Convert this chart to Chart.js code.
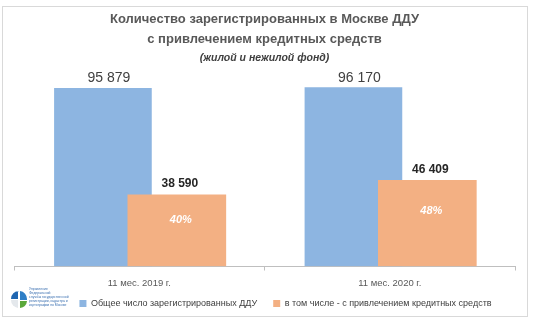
<!DOCTYPE html>
<html>
<head>
    <meta charset="utf-8">
    <title>ДДУ с привлечением кредитных средств</title>
    <script src="https://cdn.jsdelivr.net/npm/chart.js@4.4.1/dist/chart.umd.min.js"></script>
    <style>
        body {
            margin: 0;
            background-color: #ffffff;
            font-family: "Liberation Sans", Arial, sans-serif;
        }
        .frame {
            position: absolute;
            left: 2px;
            top: 6px;
            width: 526px;
            height: 311px;
            border: 1px solid #d9d9d9;
            box-sizing: border-box;
        }
        .chart-box {
            position: absolute;
            left: 0;
            top: 0;
            right: 0;
            bottom: 0;
        }
        .logo {
            position: absolute;
            left: 7px;
            top: 279px;
            width: 60px;
            height: 28px;
        }
        .logo-text {
            position: absolute;
            left: 19px;
            top: 1px;
            font-size: 3.4px;
            line-height: 4px;
            color: #3a6fb0;
            width: 40px;
        }
    </style>
</head>
<body>
    <div class="frame">
        <div class="chart-box">
            <canvas id="dduChart"></canvas>
        </div>
        <div class="logo">
            <svg width="18" height="26" viewBox="0 0 18 26">
                <path d="M9 5 A8 8 0 0 0 1 13 L8 13 L8 5 Z" fill="#1f66b1"/>
                <path d="M10 5 A8 8 0 0 1 17 13 L17 14 L10 14 Z" fill="#2f7fc7"/>
                <path d="M10 15 L17 15 A8 8 0 0 1 10 22 Z" fill="#5aa83a"/>
                <path d="M1 14 L8 14 L8 22 A8 8 0 0 1 1 14 Z" fill="#e4e8ec"/>
            </svg>
            <div class="logo-text">Управление Федеральной<br>службы государственной<br>регистрации, кадастра и<br>картографии по Москве</div>
        </div>
    </div>
    <script>
        const categories = ['11 мес. 2019 г.', '11 мес. 2020 г.'];
        const totalDdu = [95879, 96170];
        const creditDdu = [38590, 46409];
        const creditShare = [40, 48];
        const seriesNames = ['Общее число зарегистрированных ДДУ', 'в том числе - с привлечением кредитных средств'];

        const blueColor = '#8db5e1';
        const orangeColor = '#f3b083';
        const fontFamily = '"Liberation Sans", Arial, sans-serif';

        function fmt(v) {
            return String(v).replace(/\B(?=(\d{3})+(?!\d))/g, ' ');
        }

        // value labels above bars and share inside the orange bars
        const barLabels = {
            id: 'barLabels',
            afterDatasetsDraw(chart) {
                const ctx = chart.ctx;
                ctx.save();
                ctx.textAlign = 'center';
                ctx.textBaseline = 'middle';
                chart.getDatasetMeta(0).data.forEach((bar, i) => {
                    ctx.font = '14px ' + fontFamily;
                    ctx.fillStyle = '#404040';
                    ctx.fillText(fmt(totalDdu[i]), bar.x + 6, bar.y - 10);
                });
                chart.getDatasetMeta(1).data.forEach((bar, i) => {
                    ctx.font = 'bold 12px ' + fontFamily;
                    ctx.fillStyle = '#262626';
                    ctx.fillText(fmt(creditDdu[i]), bar.x + 3, bar.y - 11);
                    ctx.font = 'italic bold 11px ' + fontFamily;
                    ctx.fillStyle = '#ffffff';
                    ctx.fillText(creditShare[i] + '%', bar.x + 4, bar.y + (bar.base - bar.y) * 0.36);
                });
                ctx.restore();
            }
        };

        // legend sits to the right of the logo; its box is kept short so the axis stays low
        const legendShift = {
            id: 'legendShift',
            afterLayout(chart) {
                chart.legend.left += 21;
                chart.legend.right += 21;
                chart.legend.top -= 13;
                chart.legend.bottom = chart.height;
            }
        };

        new Chart(document.getElementById('dduChart'), {
            type: 'bar',
            data: {
                labels: categories,
                datasets: [
                    {
                        label: seriesNames[0],
                        data: totalDdu.map((v, i) => ({ x: i - 0.145, y: v })),
                        xAxisID: 'xb',
                        backgroundColor: blueColor,
                        barThickness: 97,
                        grouped: false,
                        order: 2
                    },
                    {
                        label: seriesNames[1],
                        data: creditDdu.map((v, i) => ({ x: i + 0.15, y: v })),
                        xAxisID: 'xb',
                        backgroundColor: orangeColor,
                        barThickness: 98,
                        grouped: false,
                        order: 1
                    }
                ]
            },
            options: {
                responsive: true,
                maintainAspectRatio: false,
                animation: false,
                layout: {
                    padding: { left: 11, right: 12, top: 0, bottom: 0 }
                },
                plugins: {
                    title: {
                        display: true,
                        text: ['Количество зарегистрированных в Москве ДДУ', 'с привлечением кредитных средств'],
                        color: '#595959',
                        font: { family: fontFamily, size: 13, weight: 'bold', lineHeight: 1.54 },
                        padding: { top: 2, bottom: 0 }
                    },
                    subtitle: {
                        display: true,
                        text: '(жилой и нежилой фонд)',
                        color: '#404040',
                        font: { family: fontFamily, size: 10.5, weight: 'bold', style: 'italic', lineHeight: 1.6 },
                        padding: { top: 1, bottom: 10 }
                    },
                    legend: {
                        position: 'bottom',
                        maxHeight: 20,
                        labels: {
                            boxWidth: 7,
                            boxHeight: 7,
                            padding: 16,
                            color: '#404040',
                            font: { family: fontFamily, size: 9 },
                            generateLabels: chart => Chart.defaults.plugins.legend.labels.generateLabels(chart)
                                .sort((a, b) => a.datasetIndex - b.datasetIndex)
                        }
                    },
                    tooltip: { enabled: false }
                },
                scales: {
                    x: {
                        type: 'category',
                        offset: true,
                        grid: {
                            offset: true,
                            drawOnChartArea: false,
                            tickLength: 4,
                            color: '#bfbfbf'
                        },
                        border: { color: '#bfbfbf' },
                        ticks: {
                            color: '#595959',
                            padding: 8,
                            font: { family: fontFamily, size: 9.5, lineHeight: 1 }
                        }
                    },
                    xb: {
                        type: 'linear',
                        display: false,
                        offset: false,
                        min: -0.5,
                        max: 1.5
                    },
                    y: {
                        min: 0,
                        max: 102000,
                        ticks: { display: false, stepSize: 40000 },
                        grid: {
                            drawTicks: false,
                            color: ctx => (ctx.tick && ctx.tick.value > 0 && ctx.tick.value % 40000 === 0) ? '#ececec' : 'rgba(0,0,0,0)'
                        },
                        border: { display: false }
                    }
                }
            },
            plugins: [barLabels, legendShift]
        });
    </script>
</body>
</html>
